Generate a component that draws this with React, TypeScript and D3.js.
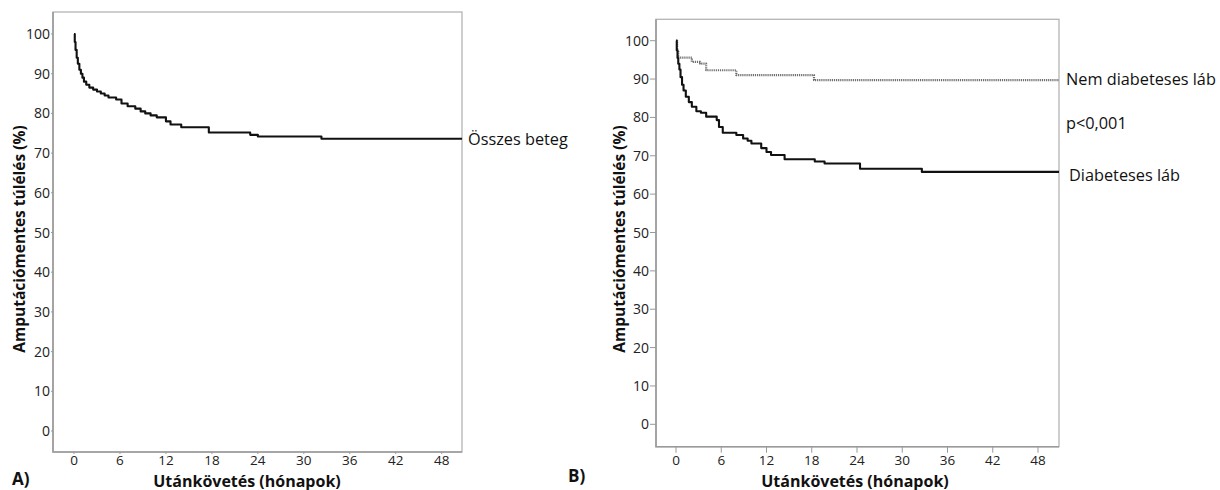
import * as React from 'react';
import * as d3 from 'd3';

// follow-up months and survival (%) at each step of the Kaplan-Meier curves
const monthTicks = [0, 6, 12, 18, 24, 30, 36, 42, 48];
const survTicks = [0, 10, 20, 30, 40, 50, 60, 70, 80, 90, 100];

const allTimes = [0, 0.1, 0.2, 0.35, 0.5, 0.7, 0.9, 1.1, 1.3, 1.6, 2.0, 2.5, 3.0, 3.5, 4.0, 4.5, 5.5, 6.2, 7.0, 8.0, 8.7, 9.3, 10.0, 10.8, 12.0, 12.6, 14.0, 17.6, 23.0, 24.0, 32.3];
const allSurv = [100, 98, 96, 94, 92.5, 91, 90, 89, 88, 87.2, 86.5, 86, 85.5, 85, 84.5, 84, 83.5, 82.5, 81.8, 81.2, 80.5, 80, 79.5, 79, 78, 77.2, 76.5, 75.2, 74.6, 74.2, 73.6];

const diabTimes = [0, 0.1, 0.2, 0.3, 0.45, 0.6, 0.8, 1.0, 1.3, 1.7, 2.1, 2.7, 3.3, 4.0, 5.4, 5.7, 6.2, 8.0, 8.9, 9.5, 10.0, 11.3, 12.0, 12.6, 14.4, 18.4, 19.7, 24.4, 32.6];
const diabSurv = [100, 97.5, 95.5, 94, 92.5, 90.5, 88.5, 87, 85.4, 84, 82.8, 81.6, 81.2, 80.2, 79.3, 77.5, 76, 75.4, 74.5, 73.9, 73.2, 72, 71, 70.2, 69.1, 68.5, 68, 66.6, 65.8];

const nonDiabTimes = [0, 0.15, 0.3, 2.1, 3.2, 4.0, 8.0, 18.3];
const nonDiabSurv = [100, 97.5, 95.6, 94.5, 94, 92.3, 91, 89.7];

const font = "'Open Sans', 'Noto Sans', sans-serif";

const panels = [
  {
    id: 'A', x0: 74, x48: 441.7, y0: 431, y100: 34,
    frame: { left: 53, right: 462, top: 12, bottom: 452 },
    tick: 2, letterX: 12, letterY: 485, titleX: 247,
    series: [{ t: allTimes, s: allSurv, dotted: false }],
    labels: [{ text: 'Összes beteg', x: 468, y: 145 }],
    yTitleX: 25,
  },
  {
    id: 'B', x0: 676, x48: 1038, y0: 424.3, y100: 40.7,
    frame: { left: 656, right: 1059, top: 19.3, bottom: 446.7 },
    tick: 6, letterX: 568, letterY: 482, titleX: 855,
    series: [
      { t: nonDiabTimes, s: nonDiabSurv, dotted: true },
      { t: diabTimes, s: diabSurv, dotted: false },
    ],
    labels: [
      { text: 'Nem diabeteses láb', x: 1066, y: 85 },
      { text: 'p<0,001', x: 1066, y: 129 },
      { text: 'Diabeteses láb', x: 1069, y: 181 },
    ],
    yTitleX: 625,
  },
];

export default function App() {
  const ref = React.useRef<SVGSVGElement>(null);

  React.useEffect(() => {
    const svg = d3.select(ref.current);
    svg.selectAll('*').remove();

    panels.forEach((p) => {
      const g = svg.append('g');
      const x = d3.scaleLinear().domain([0, 48]).range([p.x0, p.x48]);
      const y = d3.scaleLinear().domain([0, 100]).range([p.y0, p.y100]);
      const f = p.frame;
      const xEnd = x.invert(f.right);

      // frame
      g.append('rect')
        .attr('x', f.left).attr('y', f.top)
        .attr('width', f.right - f.left).attr('height', f.bottom - f.top)
        .attr('fill', 'none').attr('stroke', '#b4b4b4').attr('stroke-width', 1.3);
      g.append('path')
        .attr('d', `M${f.left},${f.top}V${f.bottom}H${f.right}`)
        .attr('fill', 'none').attr('stroke', '#9a9a9a').attr('stroke-width', 1.6);

      // y ticks
      survTicks.forEach((v) => {
        g.append('line')
          .attr('x1', f.left - p.tick).attr('x2', f.left)
          .attr('y1', y(v)).attr('y2', y(v))
          .attr('stroke', '#999').attr('stroke-width', 1);
        g.append('text')
          .attr('x', f.left - p.tick - 1).attr('y', y(v) + 5)
          .attr('text-anchor', 'end')
          .attr('font-family', font).attr('font-size', 14).attr('fill', '#222')
          .text(v);
      });

      // x ticks
      monthTicks.forEach((m) => {
        g.append('line')
          .attr('x1', x(m)).attr('x2', x(m))
          .attr('y1', f.bottom).attr('y2', f.bottom + p.tick)
          .attr('stroke', '#999').attr('stroke-width', 1);
        g.append('text')
          .attr('x', x(m)).attr('y', 464.5)
          .attr('text-anchor', 'middle')
          .attr('font-family', font).attr('font-size', 13.5).attr('fill', '#222')
          .text(m);
      });

      // curves
      const line = d3.line<[number, number]>()
        .x((d) => x(d[0])).y((d) => y(d[1]))
        .curve(d3.curveStepAfter);
      p.series.forEach((s) => {
        const pts: [number, number][] = s.t.map((t, i) => [t, s.s[i]]);
        pts.push([xEnd, s.s[s.s.length - 1]]);
        const path = g.append('path')
          .datum(pts)
          .attr('d', line)
          .attr('fill', 'none')
          .attr('stroke-linejoin', 'round');
        if (s.dotted) {
          path.attr('stroke', '#6f6f6f').attr('stroke-width', 2.2).attr('stroke-dasharray', '1.2,0.9');
        } else {
          path.attr('stroke', '#111').attr('stroke-width', 2.1);
        }
      });

      // right-hand labels
      p.labels.forEach((l) => {
        g.append('text')
          .attr('x', l.x).attr('y', l.y)
          .attr('font-family', font).attr('font-size', 16.3).attr('fill', '#111')
          .text(l.text);
      });

      // axis titles
      g.append('text')
        .attr('x', p.titleX).attr('y', 486.5)
        .attr('text-anchor', 'middle')
        .attr('font-family', font).attr('font-size', 16).attr('font-weight', 'bold').attr('fill', '#111')
        .text('Utánkövetés (hónapok)');
      g.append('text')
        .attr('transform', `translate(${p.yTitleX},239) rotate(-90)`)
        .attr('text-anchor', 'middle')
        .attr('font-family', font).attr('font-size', 15.5).attr('font-weight', 'bold').attr('fill', '#111')
        .text('Amputációmentes túlélés (%)');
      g.append('text')
        .attr('x', p.letterX).attr('y', p.letterY)
        .attr('font-family', font).attr('font-size', 17).attr('font-weight', 'bold').attr('fill', '#111')
        .text(p.id + ')');
    });
  }, []);

  return (
    <svg ref={ref} width={1220} height={490}
      style={{ position: 'absolute', left: 0, top: 0, background: '#fff' }} />
  );
}
